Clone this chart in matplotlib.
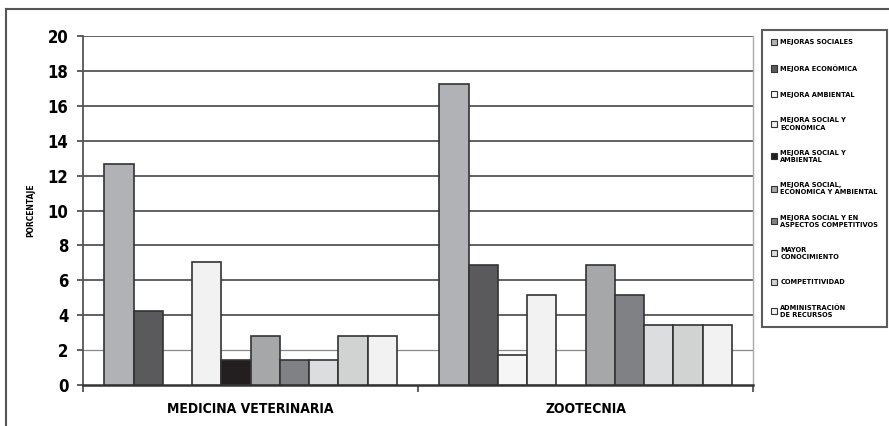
import numpy as np
import matplotlib
matplotlib.use("Agg")
import matplotlib.pyplot as plt
from matplotlib.lines import Line2D

plt.rcParams['font.family'] = ['DejaVu Sans']
plt.rcParams['font.stretch'] = 'condensed'
plt.rcParams['font.weight'] = 'bold'

# carreras y tipos de mejora
carreras = ["MEDICINA VETERINARIA", "ZOOTECNIA"]
mejoras = [
    "MEJORAS SOCIALES",
    "MEJORA ECONÓMICA",
    "MEJORA AMBIENTAL",
    "MEJORA SOCIAL Y\nECONÓMICA",
    "MEJORA SOCIAL Y\nAMBIENTAL",
    "MEJORA SOCIAL,\nECONÓMICA Y AMBIENTAL",
    "MEJORA SOCIAL Y EN\nASPECTOS COMPETITIVOS",
    "MAYOR\nCONOCIMIENTO",
    "COMPETITIVIDAD",
    "ADMINISTRACIÓN\nDE RECURSOS",
]
# porcentajes por carrera (mismo orden que mejoras)
medicina = [12.68, 4.23, 0.0, 7.04, 1.41, 2.82, 1.41, 1.41, 2.82, 2.82]
zootecnia = [17.24, 6.90, 1.72, 5.17, 0.0, 6.90, 5.17, 3.45, 3.45, 3.45]
colores = ["#b1b2b5", "#5a5a5c", "#f5f6f5", "#f2f2f2", "#231f20",
           "#a5a7a9", "#808184", "#dcdddf", "#d1d3d2", "#f2f2f2"]
yticks = [0, 2, 4, 6, 8, 10, 12, 14, 16, 18, 20]

fig = plt.figure(figsize=(8.89, 4.26), dpi=100)
ax = fig.add_axes([83 / 889, 1 - 385 / 426, 670 / 889, 349 / 426])

valores = np.array([medicina, zootecnia])
ancho = 0.0873
inicio = 0.0636
for i, (nombre, color) in enumerate(zip(mejoras, colores)):
    x = np.arange(len(carreras)) + inicio + i * ancho
    # las barras en cero no se dibujan (sin borde)
    bordes = ['#333333' if v > 0 else 'none' for v in valores[:, i]]
    ax.bar(x, valores[:, i], width=ancho, align='edge', color=color,
           edgecolor=bordes, linewidth=1.2, label=nombre, zorder=3)

ax.set_xlim(0, len(carreras))
ax.set_ylim(0, 20)
ax.set_yticks(yticks)
ax.set_yticklabels([str(t) for t in yticks], fontsize=12, fontweight='bold')
for t in yticks[1:]:
    ax.axhline(t, color='#555555' if t != 2 else '#888888',
               linewidth=1.3 if t != 2 else 0.9, zorder=1)

# categorias centradas, marcas en los limites de cada grupo
ax.set_xticks(np.arange(len(carreras) + 1))
ax.set_xticklabels([])
ax.set_xticks(np.arange(len(carreras)) + 0.5, minor=True)
ax.set_xticklabels(carreras, minor=True, fontsize=10, fontweight='bold')
ax.tick_params(axis='x', which='minor', length=0, pad=12)
ax.tick_params(axis='x', which='major', length=5, width=1.2, color='#444444')
ax.tick_params(axis='y', length=4.5, width=1.2, color='#444444', pad=6)

ax.spines['left'].set_color('#555555')
ax.spines['left'].set_linewidth(1.3)
ax.spines['bottom'].set_color('#333333')
ax.spines['bottom'].set_linewidth(1.8)
ax.spines['right'].set_color('#aaaaaa')
ax.spines['right'].set_linewidth(1.0)
ax.spines['top'].set_visible(False)

ax.set_ylabel("PORCENTAJE", fontsize=6, fontweight='bold', labelpad=9)

leg = fig.legend(loc='upper left', bbox_to_anchor=(762 / 889, 1 - 30 / 426),
                 fontsize=5.3, frameon=True, fancybox=False, edgecolor='#333333',
                 handlelength=0.9, handleheight=0.9, handletextpad=0.4,
                 labelspacing=2.6, borderpad=1.2, borderaxespad=0)
leg.get_frame().set_linewidth(1.5)
for h in leg.legend_handles:
    h.set_linewidth(0.8)
    h.set_edgecolor('#333333')

# marco exterior del grafico
fig.add_artist(Line2D([6 / 889, 6 / 889], [0, 1 - 9 / 426], color='#555555', linewidth=1.5))
fig.add_artist(Line2D([6 / 889, 1], [1 - 9 / 426, 1 - 9 / 426], color='#555555', linewidth=1.5))

fig.savefig("out.png", dpi=100)
